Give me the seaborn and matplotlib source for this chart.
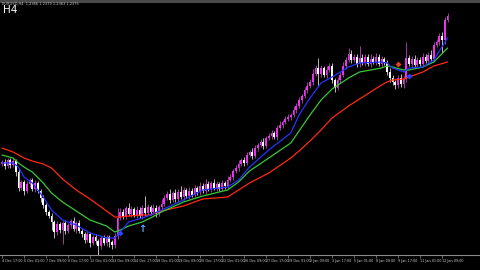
import numpy as np
import pandas as pd
import matplotlib
matplotlib.use("Agg")
import matplotlib.pyplot as plt
from matplotlib.patches import Rectangle
from matplotlib import font_manager
import seaborn as sns

# ---------------- data ----------------
first_open = 106
closes = [108, 104, 110, 105, 109, 98, 82, 88, 79, 86, 90, 81, 87, 79, 72, 65, 58, 54, 48, 38,
          46, 40, 47, 39, 45, 49, 41, 47, 39, 36, 30, 36, 27, 33, 29, 24, 32, 27, 33, 28,
          25, 34, 52, 58, 54, 62, 56, 61, 55, 60, 54, 62, 57, 63, 58, 62, 56, 63, 66, 72,
          76, 70, 77, 71, 78, 73, 80, 74, 79, 75, 82, 78, 84, 79, 86, 81, 87, 82, 86, 81,
          87, 84, 90, 93, 99, 102, 106, 110, 107, 115, 118, 114, 122, 125, 128, 124, 132, 134, 137, 133,
          142, 145, 148, 151, 153, 155, 160, 164, 170, 174, 180, 184, 188, 196, 202, 196, 202, 195, 200, 204,
          190, 182, 190, 195, 204, 210, 216, 210, 213, 206, 212, 207, 213, 206, 211, 208, 213, 206, 211, 207,
          198, 192, 188, 185, 192, 186, 191, 212, 206, 211, 205, 210, 206, 213, 209, 215, 211, 225, 228, 234,
          230, 250, 254]
wick_up = [2, 3, 2, 2, 3, 2, 3, 2, 2, 3, 2, 2, 3, 2, 2, 3, 2, 2, 3, 2,
           3, 2, 2, 3, 2, 2, 4, 2, 3, 2, 2, 3, 2, 2, 3, 2, 2, 3, 2, 2,
           2, 3, 10, 4, 3, 2, 5, 3, 2, 4, 3, 3, 12, 3, 2, 4, 3, 2, 5, 3,
           3, 5, 2, 4, 3, 6, 3, 2, 4, 3, 3, 2, 4, 3, 5, 3, 2, 4, 3, 2,
           3, 2, 4, 3, 2, 3, 4, 2, 3, 3, 2, 4, 3, 2, 3, 4, 2, 3, 3, 2,
           3, 4, 2, 3, 3, 2, 4, 3, 3, 2, 3, 4, 3, 5, 3, 10, 3, 2, 4, 3,
           3, 2, 3, 3, 4, 3, 6, 4, 3, 3, 12, 4, 3, 3, 5, 3, 4, 3, 3, 2,
           3, 4, 3, 2, 3, 4, 3, 16, 3, 3, 4, 3, 3, 4, 3, 3, 5, 3, 3, 3,
           4, 3, 3]
wick_dn = [2, 3, 2, 3, 2, 4, 3, 2, 4, 2, 3, 2, 3, 2, 4, 3, 3, 2, 8, 6,
           3, 3, 14, 3, 2, 3, 2, 4, 2, 3, 3, 2, 4, 2, 3, 12, 3, 2, 3, 5,
           4, 3, 3, 2, 3, 3, 2, 3, 2, 3, 2, 3, 3, 2, 3, 2, 3, 2, 3, 2,
           2, 3, 2, 3, 3, 2, 3, 2, 3, 2, 2, 3, 3, 2, 3, 2, 3, 2, 3, 2,
           2, 3, 2, 2, 3, 2, 3, 2, 3, 2, 2, 3, 2, 3, 2, 3, 2, 2, 3, 2,
           3, 2, 3, 2, 2, 3, 2, 3, 2, 3, 2, 3, 2, 3, 2, 12, 3, 2, 3, 2,
           3, 4, 2, 3, 2, 3, 2, 3, 2, 3, 3, 2, 3, 2, 3, 2, 3, 2, 3, 2,
           3, 4, 3, 4, 3, 3, 4, 3, 2, 3, 2, 3, 2, 3, 2, 3, 2, 3, 2, 3,
           13, 4, 2]

ma_bar = [0, 4, 6, 8, 11, 15, 18, 22, 27, 32, 38, 41, 43, 46, 51, 54, 58, 66, 73, 82,
          86, 90, 97, 105, 108, 112, 116, 120, 126, 130, 138, 140, 142, 146, 148, 153, 157, 162]
ma_fast = [107, 107, 103, 93, 87, 73, 60, 50, 45, 37, 32, 32, 38, 48, 52, 55, 60, 70, 80, 83,
           90, 103, 120, 137, 155, 172, 187, 193, 203, 207, 208, 207, 202, 198, 202, 203, 210, 232]
ma_mid = [115, 112, 107, 103, 98, 87, 77, 68, 59, 50, 44, 38, 40, 44, 48, 52, 58, 68, 74, 80,
          88, 99, 112, 127, 139, 155, 170, 181, 192, 198, 202, 204, 203, 200, 200, 203, 208, 222]
ma_slow = [122, 118, 115, 112, 109, 106, 102, 91, 80, 71, 59, 53, 53, 54, 55, 55, 59, 64, 71, 73,
           80, 87, 97, 112, 119, 129, 140, 152, 164, 171, 185, 188, 190, 191, 193, 198, 204, 208]

time_labels = ["4 Dec 17:00", "6 Dec 01:00", "7 Dec 09:00", "8 Dec 17:00", "12 Dec 01:00",
               "13 Dec 09:00", "14 Dec 17:00", "18 Dec 01:00", "19 Dec 09:00", "20 Dec 17:00",
               "22 Dec 01:00", "26 Dec 09:00", "27 Dec 17:00", "29 Dec 01:00", "2 Jan 09:00",
               "3 Jan 17:00", "5 Jan 01:00", "8 Jan 09:00", "9 Jan 17:00", "11 Jan 01:00",
               "12 Jan 09:00"]

signal_bar = [43, 51, 144, 148]
signal_price = [37, 46, 206, 194]
signal_kind = ["buy_dot", "buy_arrow", "sell_dot", "buy_dot2"]

# ---------------- build frame ----------------
n = len(closes)
opens = [first_open] + closes[:-1]
df = pd.DataFrame({"bar": np.arange(n), "open": opens, "close": closes,
                   "up": wick_up, "dn": wick_dn})
df["top"] = df[["open", "close"]].max(axis=1)
df["bot"] = df[["open", "close"]].min(axis=1)
df["high"] = df["top"] + df["up"]
df["low"] = df["bot"] - df["dn"]
df["bull"] = df["close"] >= df["open"]

ma = pd.DataFrame({"bar": ma_bar, "fast": ma_fast, "mid": ma_mid, "slow": ma_slow})

# ---------------- style ----------------
sns.set_theme(style="dark", rc={"axes.facecolor": "black", "figure.facecolor": "black",
                                "axes.grid": False})
plt.rcParams['font.family'] = ['DejaVu Sans']
names = {f.name for f in font_manager.fontManager.ttflist}
if "Liberation Sans Narrow" in names:
    tick_family, tick_size = "Liberation Sans Narrow", 3.0
else:
    tick_family, tick_size = "DejaVu Sans", 2.4

fig = plt.figure(figsize=(4.8, 2.7), dpi=100)
ax = fig.add_axes([0, 15 / 270, 1, 252 / 270])
ax.set_facecolor("black")

bull_col = "#f030f0"
bear_col = "#ffffff"
bull_wick = "#a03aa0"
bear_wick = "#b8b8b8"

for bull, bcol, wcol in [(True, bull_col, bull_wick), (False, bear_col, bear_wick)]:
    d = df[df["bull"] == bull]
    ax.vlines(d["bar"], d["low"], d["high"], color=wcol, linewidth=0.7, zorder=2)
    h = np.maximum(d["top"] - d["bot"], 0.8)
    ax.bar(d["bar"], h, bottom=d["bot"], width=0.62, color=bcol, linewidth=0, zorder=3)

sns.lineplot(data=ma, x="bar", y="slow", color="#ff2a10", linewidth=0.9, ax=ax, zorder=4)
sns.lineplot(data=ma, x="bar", y="mid", color="#38c838", linewidth=0.9, ax=ax, zorder=4)
sns.lineplot(data=ma, x="bar", y="fast", color="#2832ff", linewidth=0.9, ax=ax, zorder=4)

# signals
for b, p, k in zip(signal_bar, signal_price, signal_kind):
    if k == "buy_arrow":
        ax.text(b, p, "\u2191", color="#5aaeff", fontsize=7, ha="center", va="top",
                fontweight="bold", zorder=5)
    elif k == "sell_dot":
        ax.scatter([b], [p], marker="D", s=9, color="#e04028", zorder=5, linewidths=0)
    else:
        ax.scatter([b], [p], marker="D", s=9, color="#2846ff", zorder=5, linewidths=0)

ax.set_xlim(-0.727, 173.8)
ax.set_ylim(15, 267)
ax.set_xlabel("")
ax.set_ylabel("")
ax.set_yticks([])
ax.set_xticks(np.arange(0, 8 * len(time_labels), 8))
ax.set_xticklabels(time_labels, family=tick_family)
for lab in ax.get_xticklabels():
    lab.set_ha("left")
ax.tick_params(axis="x", colors="#909090", labelcolor="#c8c8c8", labelsize=tick_size,
               length=2, width=0.5, pad=1.2, direction="out", bottom=True)
for s in ["top", "left", "right"]:
    ax.spines[s].set_visible(False)
ax.spines["bottom"].set_color("#8a8a8a")
ax.spines["bottom"].set_linewidth(0.8)

# top strip and captions
fig.add_artist(Rectangle((0, 1 - 3 / 270), 1, 3 / 270, transform=fig.transFigure,
                         color="#4a4a4a", zorder=0))
fig.text(0.004, 0.992, "EURUSD,H4  1.2366 1.2379 1.2363 1.2375", fontsize=2.6,
         color="#c8c8c8", va="top", ha="left")
fig.text(0.006, 0.982, "H4", fontsize=7.5, color="white", va="top", ha="left")

fig.savefig("out.png", dpi=100, facecolor="black")
